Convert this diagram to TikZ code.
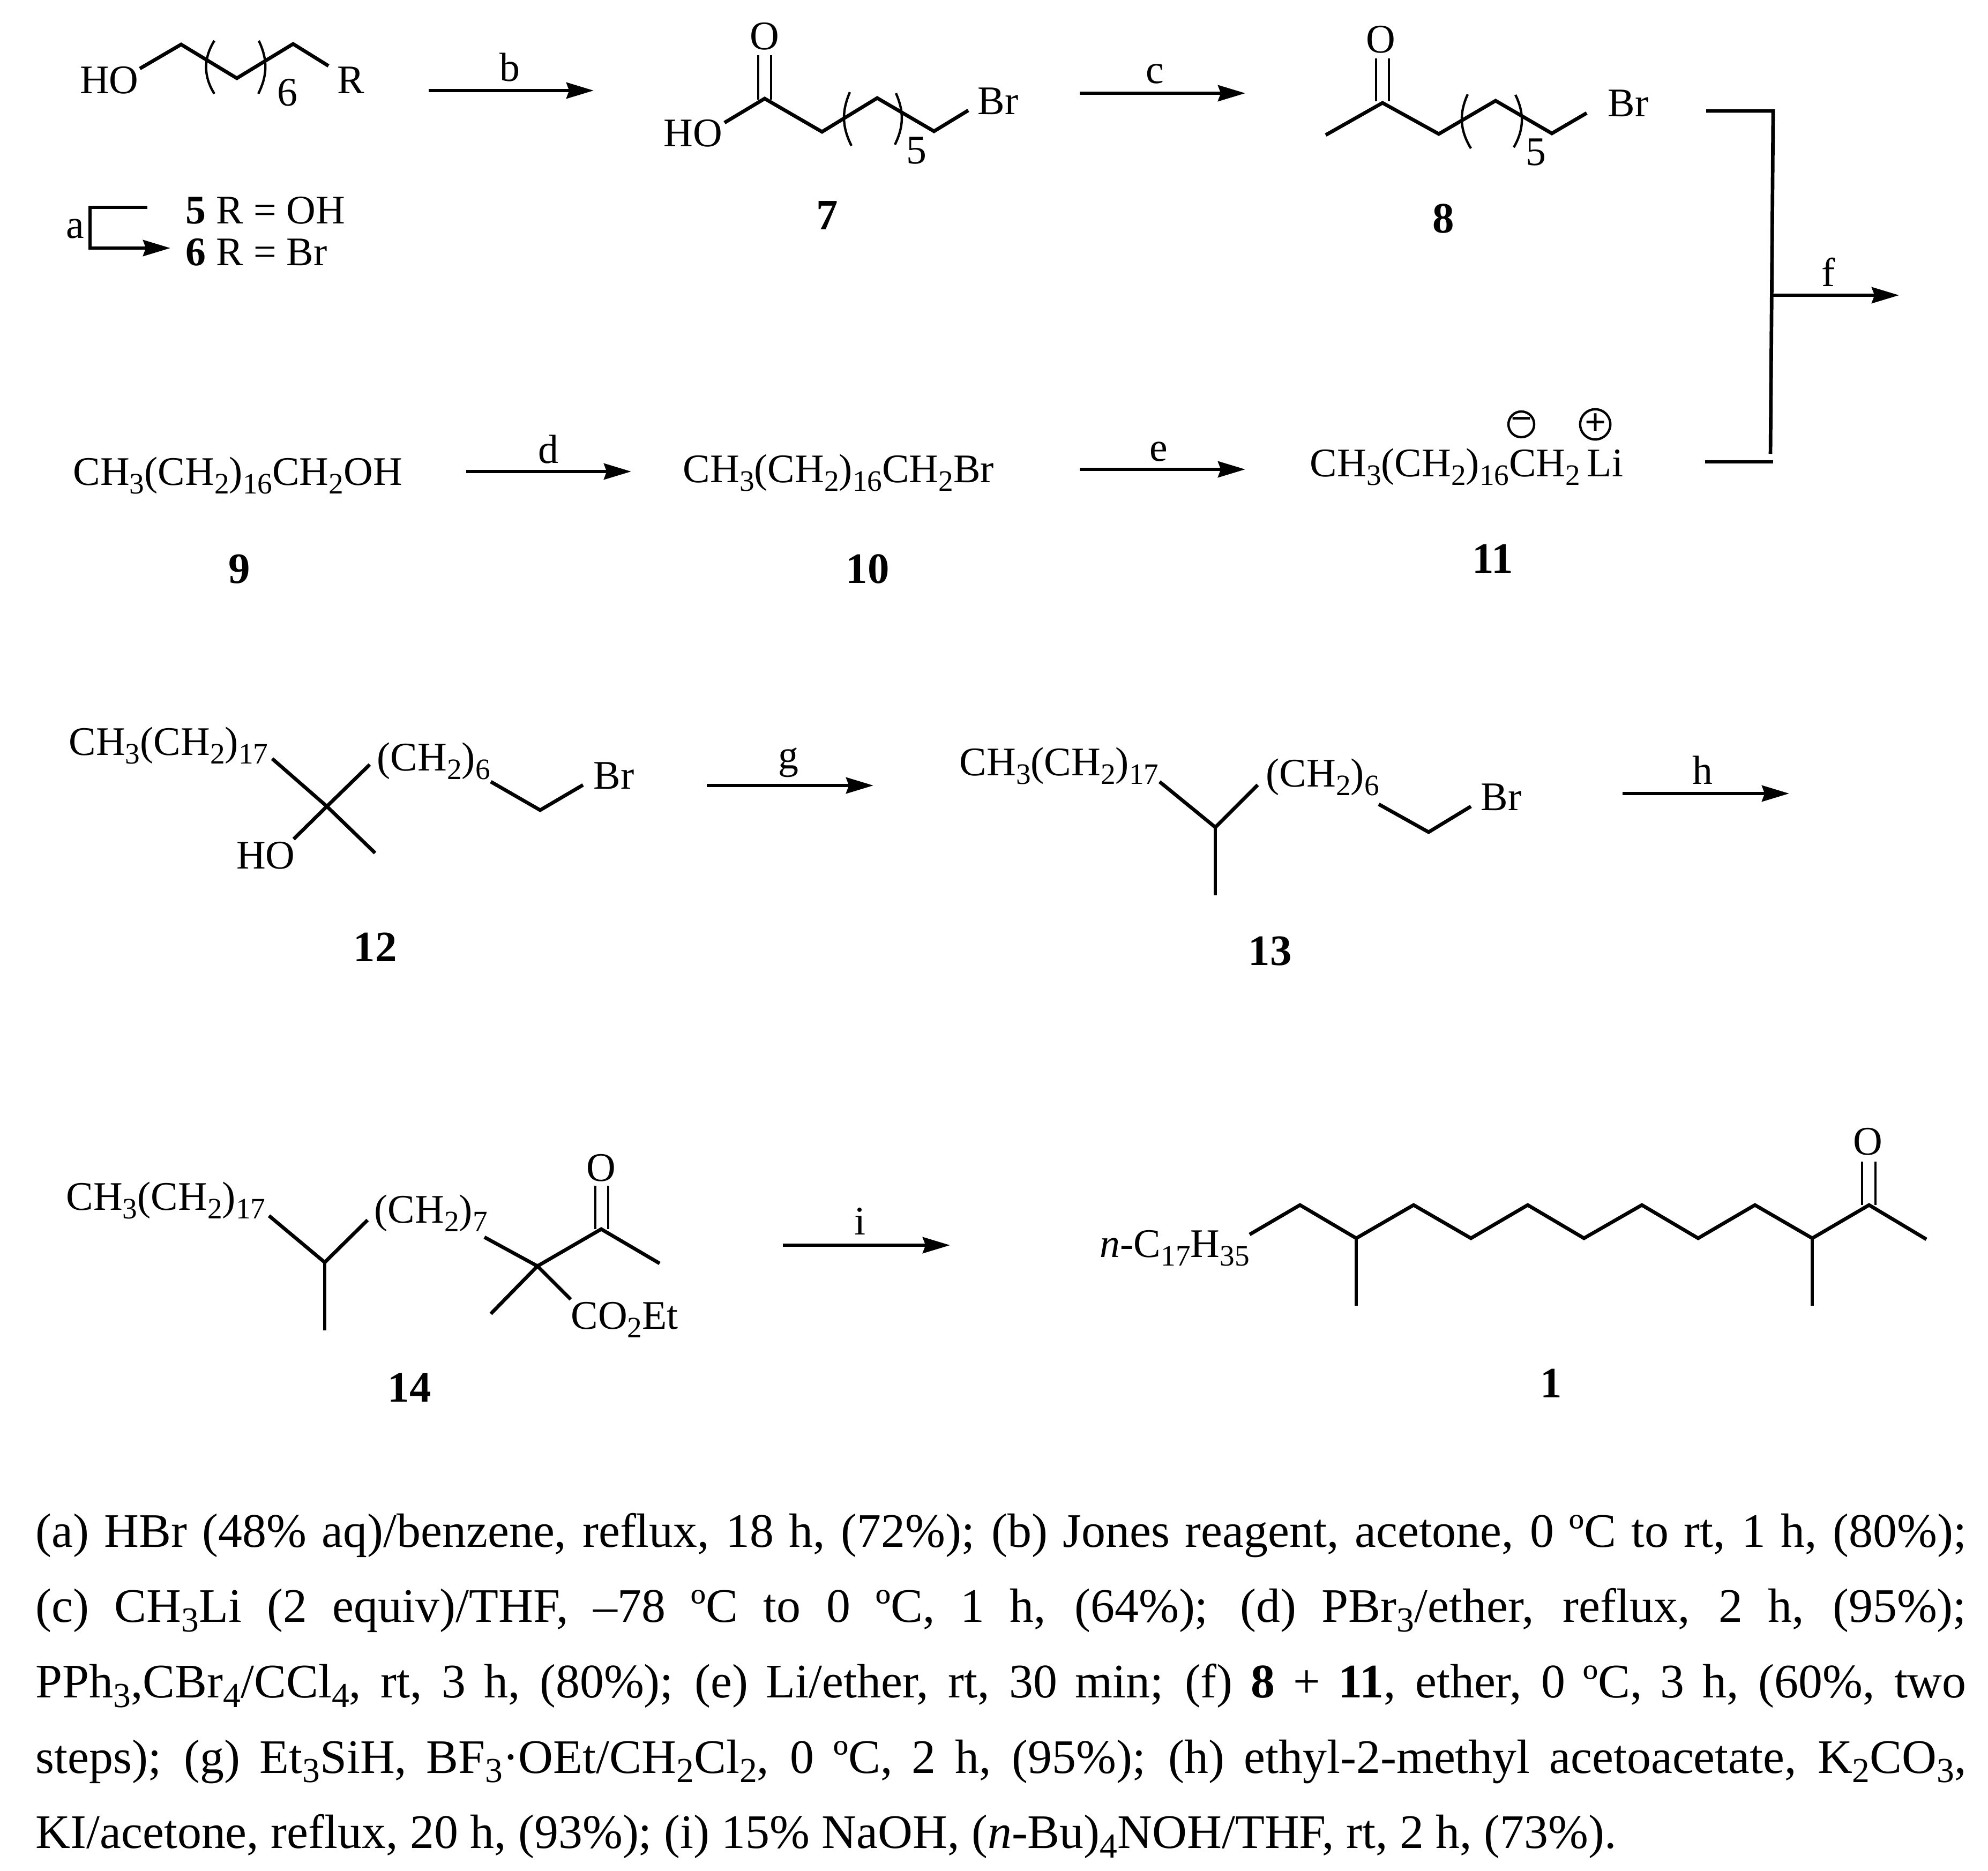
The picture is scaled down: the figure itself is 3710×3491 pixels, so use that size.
\documentclass[tikz,border=0pt]{standalone}
\usepackage{fontspec}
\setmainfont{Liberation Serif}
\usetikzlibrary{arrows.meta}
\newcommand{\sbsdrop}{-0.22em}
\newcommand{\sbs}[1]{\raisebox{\sbsdrop}{\scalebox{0.73}{#1}}}
\tikzset{
    txt/.style={inner sep=0,anchor=base,font=\fontsize{21.55}{26}\selectfont},
    txtw/.style={txt,anchor=base west},
    cmpd/.style={txt,font=\fontsize{23}{26}\selectfont\bfseries},
    bond/.style={line width=1.9pt},
    paren/.style={line width=1.25pt},
    rxn/.style={line width=1.8pt,-{Stealth[length=14.5pt,width=8.5pt,inset=1.5pt]}},
    charge/.style={draw,circle,inner sep=0,minimum size=0.48cm,line width=1.25pt,font=\fontsize{20}{20}\selectfont\bfseries}
}
\begin{document}
\begin{tikzpicture}[x=0.01cm,y=-0.01cm]
    \useasboundingbox (0,0) rectangle (3710,3491);
    % reaction arrows
    \foreach \n/\xa/\xb/\ya in {b/800/1108/169,c/2015/2324/174,d/870/1178/880,e/2015/2324/876,f/3307/3544/551,g/1319/1630/1466,h/3028/3339/1481,i/1461/1773/2324}{
        \coordinate (\n s) at (\xa,\ya);
        \coordinate (\n e) at (\xb,\ya);
        \draw[rxn] (\n s) -- (\n e);
    }
    \node[txt] (lb) at (951,152) {b};
    \node[txt] (lc) at (2155,156) {c};
    \node[txt] (ld) at (1023,864) {d};
    \node[txt] (le) at (2162,860) {e};
    \node[txt] (lf) at (3412,534) {f};
    \node[txt] (lg) at (1471,1434) {g};
    \node[txt] (lh) at (3177,1463) {h};
    \node[txt] (li) at (1605,2304) {i};
    \node[txt] (la) at (140,444) {a};
    % step a
    \coordinate (as) at (275,387);
    \coordinate (ac) at (168,387);
    \coordinate (ad) at (168,463);
    \coordinate (ae) at (318,463);
    \draw[rxn] (as) -- (ac) -- (ad) -- (ae);
    \node[txtw] (r5) at (346,417) {\textbf{5} R = OH};
    \node[txtw] (r6) at (346,495) {\textbf{6} R = Br};
    % bracket f
    \coordinate (fa) at (3184,207);
    \coordinate (fb) at (3309,207);
    \coordinate (fc) at (3304,847);
    \coordinate (fd) at (3182,862);
    \coordinate (ff) at (3309,862);
    \draw[bond] (fa) -- (fb) -- (fc);
    \draw[bond] (fd) -- (ff);
    % 5, 6
    \foreach \n/\x/\y in {p1/261/128,p2/338/83,p3/442/146,p4/547/82,p5/613/123}
        \coordinate (\n) at (\x,\y);
    \draw[bond] (p1) -- (p2) -- (p3) -- (p4) -- (p5);
    \draw[paren] (400,76) to[bend right=32] (400,175);
    \draw[paren] (483,76) to[bend left=26] (482,175);
    \node[txt] (ho5) at (204,175) {HO};
    \node[txtw] (rr) at (629,175) {R};
    \node[txt] (n6) at (536,198) {6};
    % 7
    \foreach \n/\x/\y in {q1/1352/229,q2/1427/184,q3/1534/246,q4/1637/183,q5/1743/245,q6/1807/206,qa/1415/103,qb/1415/186,qc/1439/103,qd/1439/186}
        \coordinate (\n) at (\x,\y);
    \draw[bond] (q1) -- (q2) -- (q3) -- (q4) -- (q5) -- (q6);
    \draw[paren] (qa) -- (qb) (qc) -- (qd);
    \draw[paren] (1586,172) to[bend right=25] (1589,272);
    \draw[paren] (1672,174) to[bend left=25] (1670,270);
    \node[txt] (o7) at (1427,93) {O};
    \node[txt] (ho7) at (1293,274) {HO};
    \node[txtw] (br7) at (1824,214) {Br};
    \node[txt] (n5) at (1710,306) {5};
    \node[cmpd] (c7) at (1544,429) {7};
    % 8
    \foreach \n/\x/\y in {s1/2474/252,s2/2580/192,s3/2685/250,s4/2791/188,s5/2896/249,s6/2961/211,sa/2568/109,sb/2568/189,sc/2592/109,sd/2592/189}
        \coordinate (\n) at (\x,\y);
    \draw[bond] (s1) -- (s2) -- (s3) -- (s4) -- (s5) -- (s6);
    \draw[paren] (sa) -- (sb) (sc) -- (sd);
    \draw[paren] (2739,176) to[bend right=28] (2745,277);
    \draw[paren] (2828,177) to[bend left=28] (2825,275);
    \node[txt] (o8) at (2577,99) {O};
    \node[txtw] (br8) at (3000,218) {Br};
    \node[txt] (m5) at (2866,309) {5};
    \node[cmpd] (c8) at (2694,434) {8};
    % 9, 10, 11
    \node[txtw] (t9) at (136,905) {CH\sbs{3}(CH\sbs{2})\sbs{16}CH\sbs{2}OH};
    \node[cmpd] (c9) at (447,1088) {9};
    \node[txtw] (t10) at (1274,900) {CH\sbs{3}(CH\sbs{2})\sbs{16}CH\sbs{2}Br};
    \node[cmpd] (c10) at (1619,1088) {10};
    \node[txtw] (t11) at (2444,889) {CH\sbs{3}(CH\sbs{2})\sbs{16}CH\sbs{2}\,Li};
    \node[charge] (neg) at (2839,792) {−};
    \node[charge] (pos) at (2977,792) {+};
    \node[cmpd] (c11) at (2786,1069) {11};
    % 12
    \foreach \n/\x/\y in {u1/508/1416,u2/610/1505,u3/690/1427,u4/548/1566,u5/700/1592,u6/916/1459,u7/1008/1512,u8/1088/1465}
        \coordinate (\n) at (\x,\y);
    \draw[bond] (u1) -- (u2) -- (u5);
    \draw[bond] (u4) -- (u2) -- (u3);
    \draw[bond] (u6) -- (u7) -- (u8);
    \node[txtw] (a12) at (128,1409) {CH\sbs{3}(CH\sbs{2})\sbs{17}};
    \node[txtw] (b12) at (703,1438) {(CH\sbs{2})\sbs{6}};
    \node[txtw] (br12) at (1107,1472) {Br};
    \node[txt] (ho12) at (496,1621) {HO};
    \node[cmpd] (c12) at (700,1794) {12};
    % 13
    \foreach \n/\x/\y in {v1/2164/1459,v2/2268/1544,v3/2347/1465,v4/2268/1671,v5/2573/1501,v6/2666/1553,v7/2745/1505}
        \coordinate (\n) at (\x,\y);
    \draw[bond] (v1) -- (v2) -- (v3);
    \draw[bond] (v2) -- (v4);
    \draw[bond] (v5) -- (v6) -- (v7);
    \node[txtw] (a13) at (1790,1447) {CH\sbs{3}(CH\sbs{2})\sbs{17}};
    \node[txtw] (b13) at (2362,1468) {(CH\sbs{2})\sbs{6}};
    \node[txtw] (br13) at (2763,1512) {Br};
    \node[cmpd] (c13) at (2370,1801) {13};
    % 14
    \foreach \n/\x/\y in {w1/502/2269,w2/606/2356,w3/686/2277,w4/606/2483,w5/904/2309,w6/1003/2363,w7/1122/2294,w8/1231/2358,w9/916/2452,w10/1065/2425,wa/1111/2213,wb/1111/2294,wc/1135/2213,wd/1135/2294}
        \coordinate (\n) at (\x,\y);
    \draw[bond] (w1) -- (w2) -- (w3);
    \draw[bond] (w2) -- (w4);
    \draw[bond] (w5) -- (w6) -- (w7) -- (w8);
    \draw[bond] (w9) -- (w6) -- (w10);
    \draw[paren] (wa) -- (wb) (wc) -- (wd);
    \node[txtw] (a14) at (123,2258) {CH\sbs{3}(CH\sbs{2})\sbs{17}};
    \node[txtw] (b14) at (698,2282) {(CH\sbs{2})\sbs{7}};
    \node[txt] (o14) at (1122,2204) {O};
    \node[txtw] (e14) at (1065,2480) {CO\sbs{2}Et};
    \node[cmpd] (c14) at (764,2616) {14};
    % 1
    \foreach \n/\x/\y in {z1/2332/2304,z2/2426/2249,z3/2531/2311,z4/2638/2249,z5/2745/2311,z6/2851/2249,z7/2956/2311,z8/3064/2249,z9/3169/2311,z10/3275/2249,z11/3382/2311,z12/3488/2249,z13/3595/2313,z14/2531/2437,z15/3382/2437,za/3475/2168,zb/3475/2249,zc/3500/2168,zd/3500/2249}
        \coordinate (\n) at (\x,\y);
    \draw[bond] (z1) -- (z2) -- (z3) -- (z4) -- (z5) -- (z6) -- (z7) -- (z8) -- (z9) -- (z10) -- (z11) -- (z12) -- (z13);
    \draw[bond] (z3) -- (z14);
    \draw[bond] (z11) -- (z15);
    \draw[paren] (za) -- (zb) (zc) -- (zd);
    \node[txtw] (a1) at (2052,2346) {\textit{n}-C\sbs{17}H\sbs{35}};
    \node[txt] (o1) at (3486,2155) {O};
    \node[cmpd] (c1) at (2895,2608) {1};
    % conditions
    \node[inner sep=0,anchor=north west,text width=36.01cm,align=justify,font=\fontsize{25.55}{40}\selectfont] (cond) at (66,2823) {\tolerance=10000\hbadness=10000\renewcommand{\sbsdrop}{-0.2em}%
    (a) HBr (48\% aq)/benzene, reflux, 18 h, (72\%); (b) Jones reagent, acetone, 0 ºC to rt, 1 h, (80\%);\linebreak
    (c) CH\sbs{3}Li (2 equiv)/THF, –78 ºC to 0 ºC, 1 h, (64\%); (d) PBr\sbs{3}/ether, reflux, 2 h, (95\%);\linebreak
    PPh\sbs{3},CBr\sbs{4}/CCl\sbs{4}, rt, 3 h, (80\%); (e) Li/ether, rt, 30 min; (f) \textbf{8} + \textbf{11}, ether, 0 ºC, 3 h, (60\%, two\linebreak
    steps); (g) Et\sbs{3}SiH, BF\sbs{3}·OEt/CH\sbs{2}Cl\sbs{2}, 0 ºC, 2 h, (95\%); (h) ethyl-2-methyl acetoacetate, K\sbs{2}CO\sbs{3},\linebreak
    KI/acetone, reflux, 20 h, (93\%); (i) 15\% NaOH, (\textit{n}-Bu)\sbs{4}NOH/THF, rt, 2 h, (73\%).};
\end{tikzpicture}
\end{document}
